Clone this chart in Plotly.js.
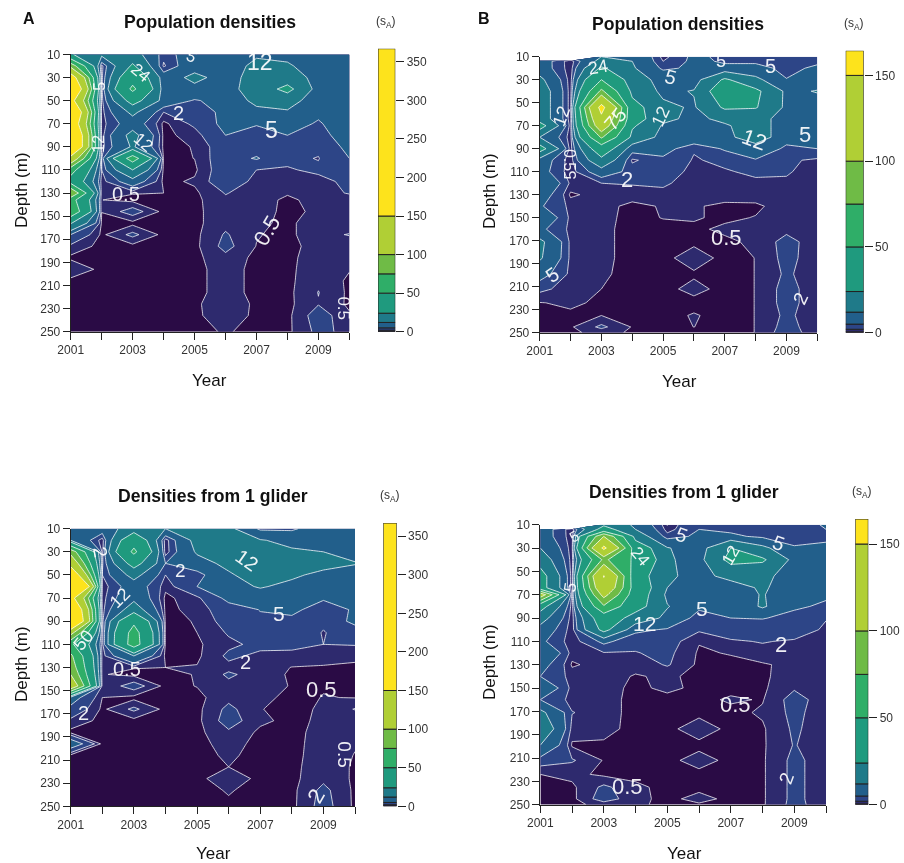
<!DOCTYPE html>
<html><head><meta charset="utf-8">
<script src="https://cdn.plot.ly/plotly-3.0.1.min.js"></script>
<style>html,body{margin:0;padding:0;background:#fff}#p{width:904px;height:863px;filter:blur(0.4px)}</style>
</head><body><div id="p"></div>
<script>
const years = [2001,2002,2003,2004,2005,2006,2007,2008,2009,2010];
const oddYears = [2001,2003,2005,2007,2009];
const evenYears = [2002,2004,2006,2008,2010];
const depthTicks = [10,30,50,70,90,110,130,150,170,190,210,230,250];
const depthsAC = [10,20,30,40,50,60,70,80,90,100,110,120,130,136,146,156,166,176,186,196,206,216,226,236,250];
const depthsBD = [10,14,20,30,40,54,64,70,80,90,100,110,120,130,140,150,160,171,185,199,212,224,235,245,250];
const levels = [0,0.5,2,5,12,24,50,75,100,150];
const bandColors = ['#2a0b45','#2e2a6e','#2d4587','#225f8b','#1f7a89','#1f9a7e','#2fae68','#6fbb46','#b0cf35','#fde31c'];

const zA = [
[25,14,16,3,8,9,11,10,8,9],
[90,1,26,1.5,9,8,14,13,8,8],
[180,1,40,8,14,9,15,17,9,8],
[230,1,55,8,10,9,16,28,8,8],
[170,1,30,9,4.5,7,14,16,7,8],
[230,1,14,2,3,6,10,11,6,8],
[200,1,8,.1,2.5,6,5.2,7,4.5,8],
[240,1,15,.1,1.1,5,4,5,3,8],
[240,1,13,.1,.57,3.5,3.5,4,2.5,6],
[130,2,62,.1,.52,3.5,5.3,2.5,1.9,5],
[60,2,24,.1,.2,3.5,2,1.8,2.4,3.5],
[40,1,8,.1,.72,3.5,1.4,1.2,1.4,2.5],
[100,.52,.6,.5,.2,2.1,1.2,.7,1.5,2.1],
[60,.52,.05,.05,.1,1.7,1.4,.1,1.2,1.4],
[70,.52,3,.05,.1,1.5,1.2,.1,.8,1],
[25,.3,.05,.05,.1,1.5,.9,.1,1.5,1],
[5,.2,2.5,.05,.1,2.2,.6,.1,1.5,2.1],
[1.5,.05,.05,.05,.1,2.6,.45,.1,1,1],
[.2,.05,.05,.05,.1,1.5,.1,.1,1.3,.8],
[1.8,.05,.05,.05,.1,1.1,.1,.1,1.5,.6],
[.05,.05,.05,.05,.1,1.1,.1,.1,1.7,.2],
[.05,.05,.05,.05,.1,1.1,.1,.1,2.05,.2],
[.05,.05,.05,.05,.1,1.9,.1,.1,1.9,.2],
[.05,.05,.05,.05,.1,1.6,.1,.1,3,.7],
[.05,.05,.05,.05,.1,.63,.1,.15,2.5,1.5]];

const zB = [
[null,null,12,12,1,6,4,4,2.8,3],
[8,.5,15,12,2,6,4.5,4,3,4],
[8,.6,26,13,4,6,6,7,3.5,6],
[14,.7,50,15,10,8,26,14,5.2,7],
[18,.7,80,20,10,12.5,35,27,10,12.5],
[18,.7,165,30,14,11,26,25,10,8],
[18,.7,140,32,14,10,14,14,10,7],
[30,.7,125,26,11,10,11,16,8,6],
[12,.7,78,20,9,9,9,18,6,5.2],
[30,.7,35,7,7,2.2,5.5,7,4.5,5],
[8,.7,20,1.5,4,1.8,2.5,4.8,2.5,1.5],
[7,.7,8,3.5,3,1.5,1.8,2.4,2.2,1.2],
[12,1.5,2,2.2,2.3,1.2,1.4,1.6,1.7,1.1],
[8,.2,1.2,1,1.5,1.1,.9,1,1.2,1],
[5.5,1.4,.9,.2,.6,.6,.3,.3,1,1],
[10,1.4,.9,.1,.55,.6,.3,.55,1,1],
[6,1.4,.8,.1,.1,.3,.7,.6,1.5,1],
[14,1.4,.8,.1,.1,.2,.3,.7,2.7,1],
[13,1.4,.8,.1,.1,1.2,.1,.52,2.6,1],
[7,1.4,.7,.1,.1,.3,.1,.52,2.3,1],
[2.5,1.2,.5,.1,.1,.9,.1,.52,2.7,1],
[.45,.7,.3,.1,.1,.1,.1,.52,2.7,1],
[.1,.3,.5,.1,.1,.6,.1,.52,2.4,1],
[.1,.3,2.4,.4,.1,.51,.1,.52,2.7,1],
[.1,.2,1,.3,.1,.1,.1,.52,3,1]];

const zC = [
[8,8,16,12,13,14,4,4,9,9],
[12,.7,40,.6,15,16,12.5,10,9,8],
[90,1,55,.6,13,14,14,13,12,9],
[130,1.5,30,5,9,14,18,24,16,12.5],
[200,2,15,2,3,11,16,14,9,8],
[367,.6,8,.9,5,8,13,9,8,8],
[170,1,10,.1,1.5,6,6,9,5.5,7],
[230,1,17,.1,1,3.5,5.1,6,3,5.5],
[250,1,45,.1,.6,3,4.5,4,2.3,6],
[110,1,60,.1,.5,2.2,3.5,3.2,1.9,3],
[55,1,62,.1,.25,1.6,2.5,2.5,2,2.1],
[80,1,12,.1,.2,2.4,1.6,1.5,1.8,1],
[90,.6,.6,.5,.6,1.5,1.3,.45,.2,.1],
[100,.6,.05,.05,.6,2.3,1.2,.3,.2,.1],
[130,.6,3,.05,.55,1.5,1.2,.4,.4,.3],
[7,.5,.05,.05,.1,1.5,.9,.1,.55,.45],
[4,.2,2.4,.05,.1,2.5,.55,.1,.7,2.1],
[1.5,.05,.05,.05,.1,2.9,.8,.1,.8,.7],
[.1,.05,.05,.05,.1,1.7,.2,.1,1,.7],
[8,.05,.05,.05,.1,1,.1,.1,1.1,.6],
[.05,.05,.05,.05,.1,.7,.1,.1,1.2,.45],
[.05,.05,.05,.05,.1,.5,.1,.1,1.4,.3],
[.05,.05,.05,.05,.1,1.4,.1,.1,1.6,.25],
[.05,.05,.05,.05,.1,.6,.1,.1,2.5,.2],
[.05,.05,.05,.05,.1,.3,.1,.1,2.8,.2]];

const zD = [
[null,null,22,10,.4,5,2,5,3,5.5],
[8,.5,30,12,1,5,4,5,3,5],
[8,.6,100,18,3,6,6,4,3,3],
[12,.7,160,35,12.5,8,24,14,5.5,7],
[18,.7,80,45,13,9,28,26,9,8],
[30,.7,152,32,13,10,14,14,8.5,8],
[30,.7,135,36,12,11,9,13,8,7],
[120,.7,110,34,10,9,8,12.5,7,5.5],
[30,.7,72,30,12.5,6,6,13,5.5,4.5],
[16,.7,35,18,10,3,5,5.2,4,2.1],
[9,.7,28,6,4.5,2.3,3,3,3,1.7],
[6,.7,6,2.6,3,.6,1.8,2.1,1.8,1],
[12,1,1.8,1.9,2.5,.3,.6,1.5,1.2,1],
[7,.3,1.1,.9,2.2,.2,.1,.3,1,1],
[5,1.2,1,.4,.7,.2,.1,.3,1.1,1],
[10,1.2,1,.2,.8,.2,.1,.25,1.8,1],
[5,1.2,1,.1,.1,.1,.7,.4,2.8,1],
[14,2.1,1,.1,.1,.1,.1,.7,2.5,1],
[20,1.2,.9,.1,.1,1.3,.1,.3,2.3,1],
[12,.3,.3,.1,.1,.1,.1,.3,2.1,1],
[3,2.2,.4,.1,.1,1.1,.1,.3,2.5,1],
[.5,.9,.2,.1,.1,.1,.1,.3,2.5,1],
[.1,.2,2.4,.8,.1,.1,.1,.3,2.5,1],
[.1,.1,3,.9,.1,1,.1,.3,2.5,1],
[.1,.1,1,.8,.1,.3,.1,.3,2.6,1]];

const labelsA = [['12',2007.11,17,0,23],['5',2007.47,75,0,23],['0.5',2007.33,162,-60,22],['2',2004.48,61,0,20],['0.5',2002.78,131,0,20],['12',2001.89,87,-90,16],['5',2001.95,38,-90,16],['24',2003.24,26,40,17],['12',2003.35,86,40,17],['0.5',2009.8,230,90,17],['5',2004.9,12,30,16]];
const labelsB = [['24',2002.89,19,-10,18],['75',2003.45,64,-50,20],['5',2005.24,28,15,20],['12',2004.94,62,-65,18],['5',2006.89,14,0,18],['5',2008.48,18,0,20],['12',2007.94,82,20,22],['5',2009.61,78,0,22],['12',2001.72,62,-70,18],['0.5',2001.99,100,90,16],['5',2001.99,113,-90,16],['2',2003.83,117,0,22],['0.5',2007.07,167,0,22],['5',2001.4,200,-35,20],['2',2009.45,220,-65,19]];
const labelsC = [['2',2001.93,30,80,19],['2',2004.46,46,0,19],['12',2006.57,37,35,20],['12',2002.56,70,-45,18],['5',2007.6,83,0,21],['50',2001.4,106,-50,18],['0.5',2002.77,131,0,20],['2',2006.52,125,0,20],['0.5',2008.94,149,0,22],['2',2001.4,169,0,20],['0.5',2009.68,205,90,19],['2',2008.78,241,-60,22]];
const labelsD = [['5',2002.05,20,-30,15],['5',2001.95,64,-80,17],['24',2004.15,37,50,17],['5',2005.46,19,20,20],['12',2006.99,36,-60,17],['5',2008.51,26,20,20],['5',2006.09,82,0,21],['12',2004.29,95,0,21],['2',2008.59,113,0,22],['0.5',2007.14,164,0,22],['0.5',2003.75,234,0,22],['2',2008.77,227,-70,19]];

// pixel boxes of the four panels and their colour keys: [left,right,top,bottom]
const panels = [
 {z:zA,d:depthsAC,labels:labelsA,box:[70.7,349.4,54.4,331.7],key:[378,395.3,48.7,331.7],top:367,ticks:[0,50,100,150,200,250,300,350],title:'Population densities',tc:[209.5,22],yc:[209.5,380],dc:[21,190],sc:[386,22]},
 {z:zB,d:depthsBD,labels:labelsB,box:[539.7,817.3,56.7,332.7],key:[845.7,863.7,50.7,332.7],top:164.4,ticks:[0,50,100,150],title:'Population densities',tc:[678,24],yc:[679,381],dc:[489,191],sc:[854,24]},
 {z:zC,d:depthsAC,labels:labelsC,box:[70.7,355,528.7,806.3],key:[383.3,396.7,523,806.3],top:367,ticks:[0,50,100,150,200,250,300,350],title:'Densities from 1 glider',tc:[213,496],yc:[213,853],dc:[21,664],sc:[390,496]},
 {z:zD,d:depthsBD,labels:labelsD,box:[540.3,826,524.7,804.7],key:[855.3,868.3,519,804.7],top:164.4,ticks:[0,50,100,150],title:'Densities from 1 glider',tc:[684,492],yc:[684,853],dc:[489,662],sc:[862,492]}
];

const W=904,H=863;
const FONT='"Liberation Sans", Arial, sans-serif';
const traces=[]; const layout={width:W,height:H,margin:{l:0,r:0,t:0,b:0},autosize:false,showlegend:false,paper_bgcolor:'#fff',plot_bgcolor:'#fff',hovermode:false,annotations:[],barmode:'overlay',font:{family:FONT,color:'#222'}};
function txt(text,px,py,size,opt){layout.annotations.push(Object.assign({text:text,xref:'paper',yref:'paper',x:px/W,y:1-py/H,xanchor:'center',yanchor:'middle',showarrow:false,font:{family:FONT,size:size,color:'#111'}},opt||{}));}

panels.forEach((p,i)=>{
  const a=2*i+1,b=2*i+2;
  const xa=a===1?'x':'x'+a, ya=a===1?'y':'y'+a, xb='x'+b, yb='y'+b;
  const xk=a===1?'xaxis':'xaxis'+a, yk=a===1?'yaxis':'yaxis'+a;
  levels.forEach((lv,j)=>{
    // a constraint contour shades the side it excludes: '<=' paints everything above the level
    traces.push({type:'contour',x:years,y:p.d,z:p.z,xaxis:xa,yaxis:ya,
      contours:{type:'constraint',operation:'<=',value:j===0?-1:lv},
      fillcolor:bandColors[j],connectgaps:false,showscale:false,hoverinfo:'skip',
      line:{color:j===0?'rgba(0,0,0,0)':'rgba(255,255,255,0.85)',width:j===0?0:0.9,smoothing:0}});
  });
  layout[xk]={domain:[p.box[0]/W,p.box[1]/W],range:[2001,2010],anchor:ya,tickvals:oddYears,ticktext:oddYears.map(String),ticks:'outside',ticklen:7,tickcolor:'#222',showline:true,linecolor:'#222',linewidth:1,showgrid:false,zeroline:false,tickfont:{size:12,family:FONT,color:'#333'},tickangle:0,
    minor:{tickmode:'array',tickvals:evenYears,ticks:'outside',ticklen:7,tickcolor:'#222',showgrid:false}};
  layout[yk]={domain:[1-p.box[3]/H,1-p.box[2]/H],range:[250,10],anchor:xa,tickvals:depthTicks,ticktext:depthTicks.map(String),ticks:'outside',ticklen:7,tickcolor:'#222',showline:true,linecolor:'#222',linewidth:1,showgrid:false,zeroline:false,tickfont:{size:12,family:FONT,color:'#333'}};
  const edges=levels.concat([p.top]);
  traces.push({type:'bar',x:levels.map(()=>0),y:levels.map((l,j)=>edges[j+1]-l),base:levels,width:1,xaxis:xb,yaxis:yb,
    marker:{color:bandColors,line:{color:'#222',width:1}},hoverinfo:'skip'});
  layout['xaxis'+b]={domain:[p.key[0]/W,p.key[1]/W],range:[-.5,.5],anchor:yb,visible:false,fixedrange:true};
  layout['yaxis'+b]={domain:[1-p.key[3]/H,1-p.key[2]/H],range:[0,p.top],anchor:xb,side:'right',tickvals:p.ticks,ticks:'outside',ticklen:8,tickcolor:'#222',showline:false,showgrid:false,zeroline:false,tickfont:{size:12,family:FONT,color:'#333'}};
  txt('<b>'+p.title+'</b>',p.tc[0],p.tc[1],17.6);
  txt('Year',p.yc[0],p.yc[1],17);
  txt('Depth (m)',p.dc[0],p.dc[1],17,{textangle:-90});
  txt('(s<sub>A</sub>)',p.sc[0],p.sc[1],12,{font:{family:FONT,size:12,color:'#333'}});
  p.labels.forEach(l=>{layout.annotations.push({text:l[0],x:l[1],y:l[2],xref:xa,yref:ya,textangle:l[3],showarrow:false,xanchor:'center',yanchor:'middle',font:{family:FONT,size:l[4],color:'rgba(255,255,255,0.92)'}});});
});
txt('<b>A</b>',29,18,16);
txt('<b>B</b>',484,18,16);
Plotly.newPlot('p',traces,layout,{displayModeBar:false,staticPlot:true});
</script></body></html>
